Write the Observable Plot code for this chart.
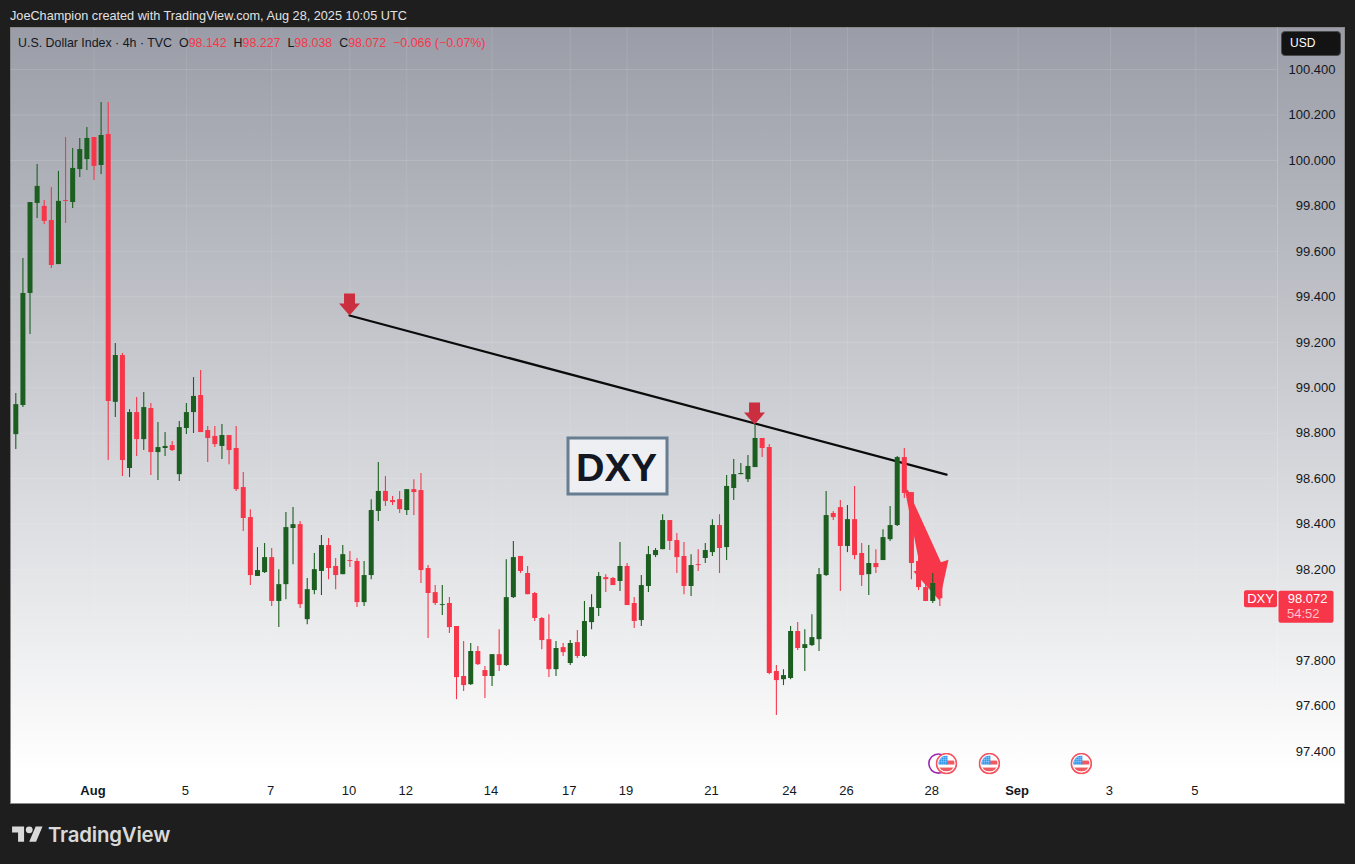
<!DOCTYPE html>
<html><head><meta charset="utf-8">
<script src="https://cdn.jsdelivr.net/npm/d3@7"></script>
<script src="https://cdn.jsdelivr.net/npm/@observablehq/plot@0.6"></script>
<style>
html,body{margin:0;padding:0;background:#1e1e1e;width:1355px;height:864px;overflow:hidden;font-family:"Liberation Sans",Arial,sans-serif}
#top{position:absolute;left:10px;top:8.5px;font-size:12.7px;line-height:15px;color:#e2e2e2;white-space:nowrap}
#panel{position:absolute;left:10px;top:27px;width:1335px;height:777px;background:linear-gradient(to bottom,#9a9da7 0%,#ffffff 96%);box-sizing:border-box;box-shadow:inset 0 0 0 1px #8a8a8a}
#plot{position:absolute;left:0;top:0}
#legend{position:absolute;left:8px;top:8.5px;font-size:12.4px;line-height:15px;color:#131722;white-space:nowrap}
#legend b{font-weight:400;color:#f7364a}
#legend i{font-style:normal;margin-left:7px}
#usd{position:absolute;left:1271px;top:4px;width:60px;height:25px;box-sizing:border-box;background:#131313;border:1px solid #4a4a4a;border-radius:4px;color:#fff;font-size:12px;line-height:23px;padding-left:8px}
#brand{position:absolute;left:12px;top:822px;display:flex;align-items:center;color:#d9d9d9}
#brand span{font-family:Inter,sans-serif;font-weight:600;font-size:20.4px;margin-left:5px;letter-spacing:-.2px}
</style></head><body>
<div id="top">JoeChampion created with TradingView.com, Aug 28, 2025 10:05 UTC</div>
<div id="panel"><div id="plot"></div>
<div id="legend">U.S. Dollar Index · 4h · TVC<i>O<b>98.142</b></i><i>H<b>98.227</b></i><i>L<b>98.038</b></i><i>C<b>98.072</b></i><i><b>−0.066 (−0.07%)</b></i></div>
<div id="usd">USD</div></div>
<div id="brand"><svg width="31" height="24" viewBox="0 0 36 28" fill="#d9d9d9"><path d="M14 22H7V11H0V4h14v18zM28 22h-8l7.5-18h8L28 22z"/><circle cx="20" cy="8" r="4"/></svg><span>TradingView</span></div>
<script>
const opens=[98.794,98.922,99.415,99.811,99.798,99.736,99.542,99.824,99.815,99.960,100.004,100.101,99.978,100.114,98.936,99.142,98.645,98.891,98.772,98.909,98.715,98.733,98.746,98.618,98.821,98.891,98.966,98.812,98.786,98.742,98.790,98.733,98.561,98.429,98.170,98.187,98.253,98.060,98.134,98.381,98.398,97.980,98.108,98.192,98.306,98.214,98.178,98.240,98.236,98.055,98.174,98.456,98.544,98.504,98.508,98.460,98.552,98.548,98.205,98.099,98.042,98.051,97.950,97.730,97.694,97.840,97.756,97.730,97.826,97.778,98.077,98.258,98.183,98.095,97.985,97.892,97.760,97.857,97.787,97.879,97.818,97.967,98.029,98.165,98.161,98.148,98.214,98.051,97.976,98.126,98.262,98.288,98.416,98.328,98.258,98.126,98.222,98.249,98.275,98.394,98.297,98.557,98.618,98.596,98.649,98.777,98.737,97.752,97.716,97.721,97.928,97.853,97.866,97.892,98.174,98.447,98.473,98.302,98.420,98.271,98.178,98.227,98.240,98.332,98.394,98.693,98.539,98.236,98.121,98.060,98.142];
const highs=[98.975,99.569,99.815,99.982,99.824,99.881,99.952,100.101,100.053,100.097,100.145,100.101,100.255,100.255,99.195,99.151,98.904,98.957,98.979,98.931,98.847,98.803,98.764,98.852,98.931,99.045,99.076,98.830,98.830,98.838,98.790,98.830,98.627,98.464,98.297,98.315,98.293,98.200,98.451,98.473,98.412,98.161,98.271,98.350,98.337,98.249,98.306,98.280,98.249,98.236,98.508,98.671,98.610,98.522,98.544,98.552,98.596,98.623,98.218,98.130,98.130,98.077,97.950,97.884,97.875,97.862,97.774,97.826,97.936,98.244,98.324,98.258,98.214,98.099,97.989,98.002,97.884,97.875,97.888,97.932,98.060,98.090,98.187,98.178,98.165,98.319,98.227,98.077,98.174,98.302,98.293,98.442,98.416,98.359,98.319,98.266,98.288,98.315,98.420,98.442,98.614,98.684,98.667,98.702,98.838,98.777,98.750,97.778,97.760,97.950,97.967,97.936,98.002,98.205,98.544,98.456,98.504,98.482,98.566,98.315,98.306,98.288,98.376,98.478,98.698,98.733,98.539,98.253,98.150,98.183,98.227];
const lows=[98.728,98.913,99.234,99.745,99.718,99.525,99.542,99.723,99.789,99.925,99.956,99.912,99.938,98.680,98.869,98.610,98.605,98.698,98.724,98.614,98.592,98.698,98.720,98.588,98.794,98.799,98.803,98.671,98.737,98.684,98.662,98.544,98.368,98.130,98.170,98.183,98.038,97.945,98.068,98.222,98.029,97.958,98.090,98.086,98.156,98.112,98.178,98.209,98.033,98.038,98.156,98.412,98.478,98.482,98.447,98.438,98.438,98.139,97.897,98.042,97.998,97.919,97.628,97.664,97.690,97.778,97.633,97.686,97.752,97.774,98.073,98.183,98.090,97.972,97.848,97.725,97.730,97.818,97.778,97.809,97.813,97.936,97.994,98.099,98.130,98.104,98.042,97.941,97.950,98.099,98.253,98.288,98.284,98.183,98.090,98.082,98.192,98.227,98.258,98.183,98.240,98.504,98.618,98.583,98.649,98.693,97.738,97.558,97.690,97.716,97.844,97.752,97.862,97.840,98.170,98.416,98.104,98.275,98.244,98.126,98.086,98.183,98.240,98.324,98.390,98.513,98.156,98.108,98.060,98.051,98.038];
const closes=[98.926,99.415,99.815,99.886,99.732,99.538,99.820,99.820,99.965,100.048,100.097,99.974,100.110,98.940,99.142,98.680,98.891,98.772,98.913,98.715,98.737,98.742,98.724,98.825,98.891,98.962,98.803,98.777,98.750,98.790,98.724,98.552,98.425,98.174,98.196,98.253,98.060,98.134,98.385,98.398,98.046,98.112,98.200,98.306,98.205,98.174,98.266,98.236,98.055,98.174,98.460,98.544,98.500,98.495,98.464,98.552,98.539,98.196,98.095,98.051,98.046,97.945,97.725,97.690,97.840,97.782,97.730,97.826,97.778,98.077,98.253,98.192,98.090,97.985,97.888,97.760,97.853,97.835,97.875,97.818,97.972,98.033,98.170,98.156,98.130,98.214,98.042,97.972,98.130,98.266,98.284,98.416,98.324,98.253,98.126,98.218,98.218,98.284,98.394,98.293,98.566,98.618,98.623,98.654,98.777,98.733,97.743,97.712,97.734,97.928,97.853,97.870,97.901,98.178,98.438,98.429,98.302,98.420,98.262,98.174,98.227,98.209,98.341,98.394,98.693,98.535,98.227,98.121,98.060,98.139,98.072];

const priceTicks=[97.4,97.6,97.8,98,98.2,98.4,98.6,98.8,99,99.2,99.4,99.6,99.8,100,100.2,100.4];
const hiddenPriceLabel=98;
const dayTickBars=[24,36,47,55,67,78,86,98,109,117,129,154,166];
const dayTickLabels=["5","7","10","12","14","17","19","21","24","26","28","3","5"];
const monthTickBars=[11,141];
const monthTickLabels=["Aug","Sep"];

const trendBars=[46.95,130.94];
const trendPrices=[99.318,98.618];
const markerBars=[46.95,103.93];
const markerPrices=[99.318,98.838];
const arrowBars=[125.1,125.5,130.15,131.22,129.95,126.3,127.28,125.1];
const arrowPrices=[98.548,98.552,98.232,98.244,98.064,98.192,98.202,98.548];
const labelBar=84.65, labelPrice=98.656, labelText="DXY";
const flagBars=[130.93,136.97,149.9];
const earningsBars=[129.8];
const eventPrice=97.347;
const lastPrice=98.072, lastText="98.072", countdown="54:52", tagText="DXY";

const RED="#f7364a", GREEN="#1b5e20";
const candles=opens.map((o,i)=>({i,o,h:highs[i],l:lows[i],c:closes[i]}));
const up=candles.filter(d=>d.c>=d.o), down=candles.filter(d=>d.c<d.o);
const rectSym=(w,h,r=0,ox=0)=>({draw(c){const x=-w/2+ox,y=-h/2;
  c.moveTo(x+r,y);c.lineTo(x+w-r,y);c.arcTo(x+w,y,x+w,y+r,r);c.lineTo(x+w,y+h-r);c.arcTo(x+w,y+h,x+w-r,y+h,r);
  c.lineTo(x+r,y+h);c.arcTo(x,y+h,x,y+h-r,r);c.lineTo(x,y+r);c.arcTo(x,y,x+r,y,r);c.closePath();}});
const downArrow={draw(c){c.moveTo(0,0);c.lineTo(-10.5,-12);c.lineTo(-5.5,-12);c.lineTo(-5.5,-22);c.lineTo(5.5,-22);c.lineTo(5.5,-12);c.lineTo(10.5,-12);c.closePath();}};
const flagSvg=`<svg xmlns="http://www.w3.org/2000/svg" width="44" height="44" viewBox="0 0 22 22"><defs><clipPath id="c"><circle cx="11" cy="11" r="8"/></clipPath></defs><circle cx="11" cy="11" r="10" fill="#fff" stroke="#f5525e" stroke-width="1.6"/><g clip-path="url(#c)"><rect width="22" height="22" fill="#fff"/><rect y="3" width="22" height="4" fill="#fff"/><rect x="11" y="8" width="11" height="4" fill="#ef5a62"/><rect y="15" width="22" height="4" fill="#ef5a62"/><rect x="2" y="3" width="10" height="9" fill="#2f96ee"/><path d="M4 3v9M6 3v9M8 3v9M10 3v9M2 5h10M2 7h10M2 9h10" stroke="#bfe0fb" stroke-width=".35"/></g></svg>`;
const flagUri="data:image/svg+xml;utf8,"+encodeURIComponent(flagSvg);
const wick=(data,col)=>Plot.ruleX(data,{x:"i",y1:"l",y2:"h",stroke:col,strokeWidth:1.1});
const body=(data,col)=>Plot.ruleX(data,{x:"i",y1:"o",y2:"c",stroke:col,strokeWidth:5});
const chart=Plot.plot({
  width:1335,height:777,marginLeft:0,marginRight:68,marginTop:0,marginBottom:28,
  x:{domain:[-0.746,177.5],range:[0,1267],axis:null},
  y:{domain:[97.29,100.585],range:[749,0],axis:null},
  style:{background:"transparent",overflow:"visible",fontFamily:"'Liberation Sans',Arial,sans-serif",fontSize:"13px",color:"#131722"},
  marks:[
    Plot.gridY(priceTicks,{stroke:"#fff",strokeOpacity:.13,strokeWidth:1}),
    Plot.gridX([...dayTickBars,...monthTickBars],{stroke:"#fff",strokeOpacity:.1,strokeWidth:1}),
    Plot.ruleX([177.5],{stroke:"#fff",strokeOpacity:.18,y1:97.29,y2:100.585}),
    Plot.line(trendBars.map((x,k)=>({x,y:trendPrices[k]})),{x:"x",y:"y",stroke:"#000",strokeWidth:2.2,strokeOpacity:.95}),
    Plot.dot(markerBars.map((x,k)=>({x,y:markerPrices[k]})),{x:"x",y:"y",symbol:downArrow,fill:"#cb2e3e",stroke:"none"}),
    Plot.line(arrowBars.map((x,k)=>({x,y:arrowPrices[k]})),{x:"x",y:"y",fill:RED,stroke:"none"}),
    wick(up,GREEN),wick(down,RED),body(up,GREEN),body(down,RED),
    Plot.dot([{x:labelBar,y:labelPrice}],{x:"x",y:"y",symbol:rectSym(99,56),fill:"#eeeff2",stroke:"#667d92",strokeWidth:3}),
    Plot.text([labelText],{x:labelBar,y:labelPrice,text:d=>d,fontSize:39.5,fontWeight:700,fill:"#131722",dy:2,dx:-1}),
    Plot.dot(earningsBars,{x:d=>d,y:()=>eventPrice,r:9.6,stroke:"#9c27b0",strokeWidth:1.6,fill:"none"}),
    Plot.image(flagBars,{x:d=>d,y:()=>eventPrice,src:()=>flagUri,width:22,height:22}),
    Plot.axisY(priceTicks.filter(d=>d!==hiddenPriceLabel),{anchor:"right",tickSize:0,tickPadding:0,textAnchor:"end",dx:58,label:null,tickFormat:d3.format(".3f"),fill:"#131722"}),
    Plot.axisX(dayTickBars,{anchor:"bottom",tickSize:0,tickPadding:9,dx:-1,label:null,fill:"#131722",tickFormat:d=>dayTickLabels[dayTickBars.indexOf(d)]}),
    Plot.axisX(monthTickBars,{anchor:"bottom",tickSize:0,tickPadding:9,dx:-1,label:null,fill:"#131722",fontWeight:700,tickFormat:d=>monthTickLabels[monthTickBars.indexOf(d)]}),
    Plot.dot([lastPrice],{y:d=>d,frameAnchor:"right",symbol:rectSym(33,17,2,-17),fill:RED,stroke:"none"}),
    Plot.text([tagText],{y:()=>lastPrice,frameAnchor:"right",dx:-17,textAnchor:"middle",text:d=>d,fill:"#fff",fontSize:13}),
    Plot.dot([lastPrice],{y:d=>d,frameAnchor:"right",dx:0,dy:8,symbol:rectSym(55,32,2,28.5),fill:RED,stroke:"none"}),
    Plot.text([lastText],{y:()=>lastPrice,frameAnchor:"right",dx:50,textAnchor:"end",text:d=>d,fill:"#fff",fontSize:13}),
    Plot.text([countdown],{y:()=>lastPrice,frameAnchor:"right",dx:42,dy:15,textAnchor:"end",text:d=>d,fill:"#ffc2c8",fontSize:13})
  ]
});
document.getElementById("plot").appendChild(chart);
</script>
</body></html>
